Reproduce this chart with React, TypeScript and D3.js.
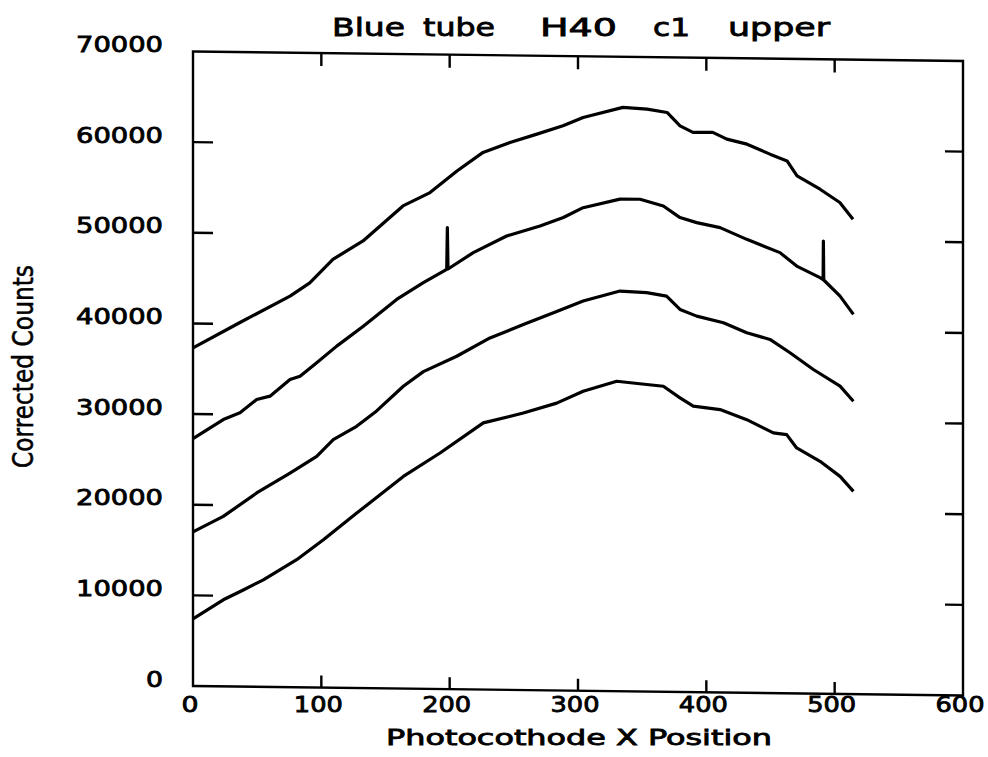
import React from "react";
import * as d3 from "d3";

const xTicks = [0, 100, 200, 300, 400, 500, 600];
const yTicks = [0, 10000, 20000, 30000, 40000, 50000, 60000, 70000];

const titleWords = ["Blue", "tube", "H40", "c1", "upper"];
const xTitle = "Photocothode X Position";
const yTitle = "Corrected Counts";

const curve1: [number, number][] = [
  [0, 37300], [36.6, 40170], [75.6, 43150], [91, 44630], [109, 47260], [132.5, 49330],
  [163.6, 53250], [184.7, 54760], [205.7, 57180], [226, 59260], [247, 60400], [268, 61350],
  [288.3, 62310], [304, 63250], [335, 64420], [353.8, 64260], [369.4, 63920], [379.5, 62460],
  [389.6, 61760], [405, 61780], [416, 61060], [431.7, 60530], [449.6, 59460], [462.9, 58740],
  [470.7, 57090], [488.6, 55660], [504, 54220], [514.3, 52390],
];

const curve2: [number, number][] = [
  [0, 27300], [23.6, 29440], [36.6, 30200], [49.6, 31690], [60, 32080], [75.6, 33940],
  [83.4, 34320], [96.4, 35820], [112, 37690], [132.7, 39930], [158.7, 42930], [179.5, 44810],
  [197.7, 46310], [198.2, 50920], [198.7, 46350], [218.4, 48190], [244.4, 50070], [270.4, 51230],
  [288.6, 52190], [304, 53300], [332.7, 54290], [348.3, 54310], [366.5, 53600], [379.5, 52340],
  [392.5, 51810], [410.7, 51290], [431.5, 50030], [457.4, 48610], [470.4, 47150], [488.6, 45900],
  [491, 45700], [491.2, 49950], [491.5, 45650], [504.2, 43900], [514.6, 41890],
];

const curve3: [number, number][] = [
  [0, 17000], [23.6, 18750], [49.6, 21380], [75.6, 23630], [96.4, 25500], [109.3, 27370],
  [127.5, 28870], [143.1, 30600], [163.9, 33360], [179.5, 35000], [205.5, 36740], [231.4, 38800],
  [257.4, 40320], [283.4, 41820], [304, 43000], [332.7, 44150], [353.5, 44010], [369, 43650],
  [379.5, 42210], [392.5, 41490], [413.3, 40800], [431.5, 39720], [449.6, 39020], [465.2, 37580],
  [483.4, 35760], [504.2, 33960], [514.6, 32310],
];

const curve4: [number, number][] = [
  [0, 7400], [23.6, 9550], [39.2, 10660], [54.8, 11810], [80.8, 14070], [101.6, 16310],
  [127.6, 19300], [163.9, 23410], [192.5, 26040], [226.2, 29420], [257.4, 30560], [283.4, 31700],
  [304, 33050], [330.2, 34200], [353.5, 33880], [366.5, 33710], [379.5, 32450], [389.8, 31550],
  [410.7, 31210], [431.5, 30140], [452.2, 28720], [462.6, 28540], [470.4, 27080], [488.6, 25640],
  [504.2, 24010], [514.6, 22370],
];

const curves = [curve1, curve2, curve3, curve4];

const W = 988;
const H = 757;
const X0 = 193;
const X1 = 963;
const YB = 686;
const YT = 51.5;

export default function App() {
  const x = d3.scaleLinear().domain([0, 600]).range([X0, X1]);
  const y = d3.scaleLinear().domain([0, 70000]).range([YB, YT]);
  const line = d3
    .line<[number, number]>()
    .x((d) => x(d[0]))
    .y((d) => y(d[1]))
    .curve(d3.curveLinear);

  const skewDeg = (Math.atan(9.5 / 770) * 180) / Math.PI;
  const font = "'DejaVu Sans', 'Liberation Sans', sans-serif";
  const condensed = "'DejaVu Sans Condensed', 'Liberation Sans Narrow', 'DejaVu Sans', sans-serif";
  const txt = { fill: "#000", stroke: "#000", strokeWidth: 0.8 };

  const titlePos = [
    { x: 332, w: 73 },
    { x: 423, w: 72 },
    { x: 540, w: 77 },
    { x: 653, w: 37 },
    { x: 728, w: 102 },
  ];

  return (
    <svg
      width={W}
      height={H}
      style={{ position: "absolute", left: 0, top: 0, background: "#fff" }}
    >
      <rect x={0} y={0} width={W} height={H} fill="#fff" />
      {/* title */}
      {titleWords.map((w, i) => (
        <text
          key={w}
          x={titlePos[i].x}
          y={36}
          fontFamily={font}
          fontSize={25}
          textLength={titlePos[i].w}
          lengthAdjust="spacingAndGlyphs"
          {...txt}
        >
          {w}
        </text>
      ))}

      {/* y tick labels */}
      {yTicks.map((t) => (
        <text
          key={"yl" + t}
          x={163}
          y={y(t) + 0.5}
          textAnchor="end"
          fontFamily={font}
          fontSize={21}
          textLength={t === 0 ? 17 : 87}
          lengthAdjust="spacingAndGlyphs"
          {...txt}
        >
          {t}
        </text>
      ))}

      {/* x tick labels */}
      {xTicks.map((t) => (
        <text
          key={"xl" + t}
          x={x(t) - 3}
          y={712}
          textAnchor="middle"
          fontFamily={font}
          fontSize={21}
          textLength={t === 0 ? 17 : 49}
          lengthAdjust="spacingAndGlyphs"
          {...txt}
        >
          {t}
        </text>
      ))}

      {/* axis titles */}
      <text
        x={386}
        y={745}
        fontFamily={font}
        fontSize={21}
        textLength={386}
        lengthAdjust="spacingAndGlyphs"
        {...txt}
      >
        {xTitle}
      </text>
      <text
        transform={`translate(33,366.5) rotate(-90)`}
        x={0}
        y={0}
        textAnchor="middle"
        fontFamily={condensed}
        fontSize={28}
        textLength={203}
        lengthAdjust="spacingAndGlyphs"
        fill="#000"
        stroke="#000"
        strokeWidth={0.5}
      >
        {yTitle}
      </text>

      {/* sheared plot area (scan skew) */}
      <g transform={`translate(${X0},0) skewY(${skewDeg}) translate(${-X0},0)`}>
        <rect
          x={X0}
          y={YT}
          width={X1 - X0}
          height={YB - YT}
          fill="none"
          stroke="#000"
          strokeWidth={2.4}
        />
        {yTicks.slice(1, -1).map((t) => (
          <g key={"yt" + t}>
            <line x1={X0} x2={X0 + 20} y1={y(t)} y2={y(t)} stroke="#000" strokeWidth={2.4} />
            <line x1={X1} x2={X1 - 18} y1={y(t)} y2={y(t)} stroke="#000" strokeWidth={2.4} />
          </g>
        ))}
        {xTicks.slice(1, -1).map((t) => (
          <g key={"xt" + t}>
            <line x1={x(t)} x2={x(t)} y1={YB} y2={YB - 12} stroke="#000" strokeWidth={2.4} />
            <line x1={x(t)} x2={x(t)} y1={YT} y2={YT + 13} stroke="#000" strokeWidth={2.4} />
          </g>
        ))}
        {curves.map((c, i) => (
          <path
            key={"c" + i}
            d={line(c) || ""}
            fill="none"
            stroke="#000"
            strokeWidth={3.2}
            strokeLinejoin="round"
          />
        ))}
      </g>
    </svg>
  );
}
